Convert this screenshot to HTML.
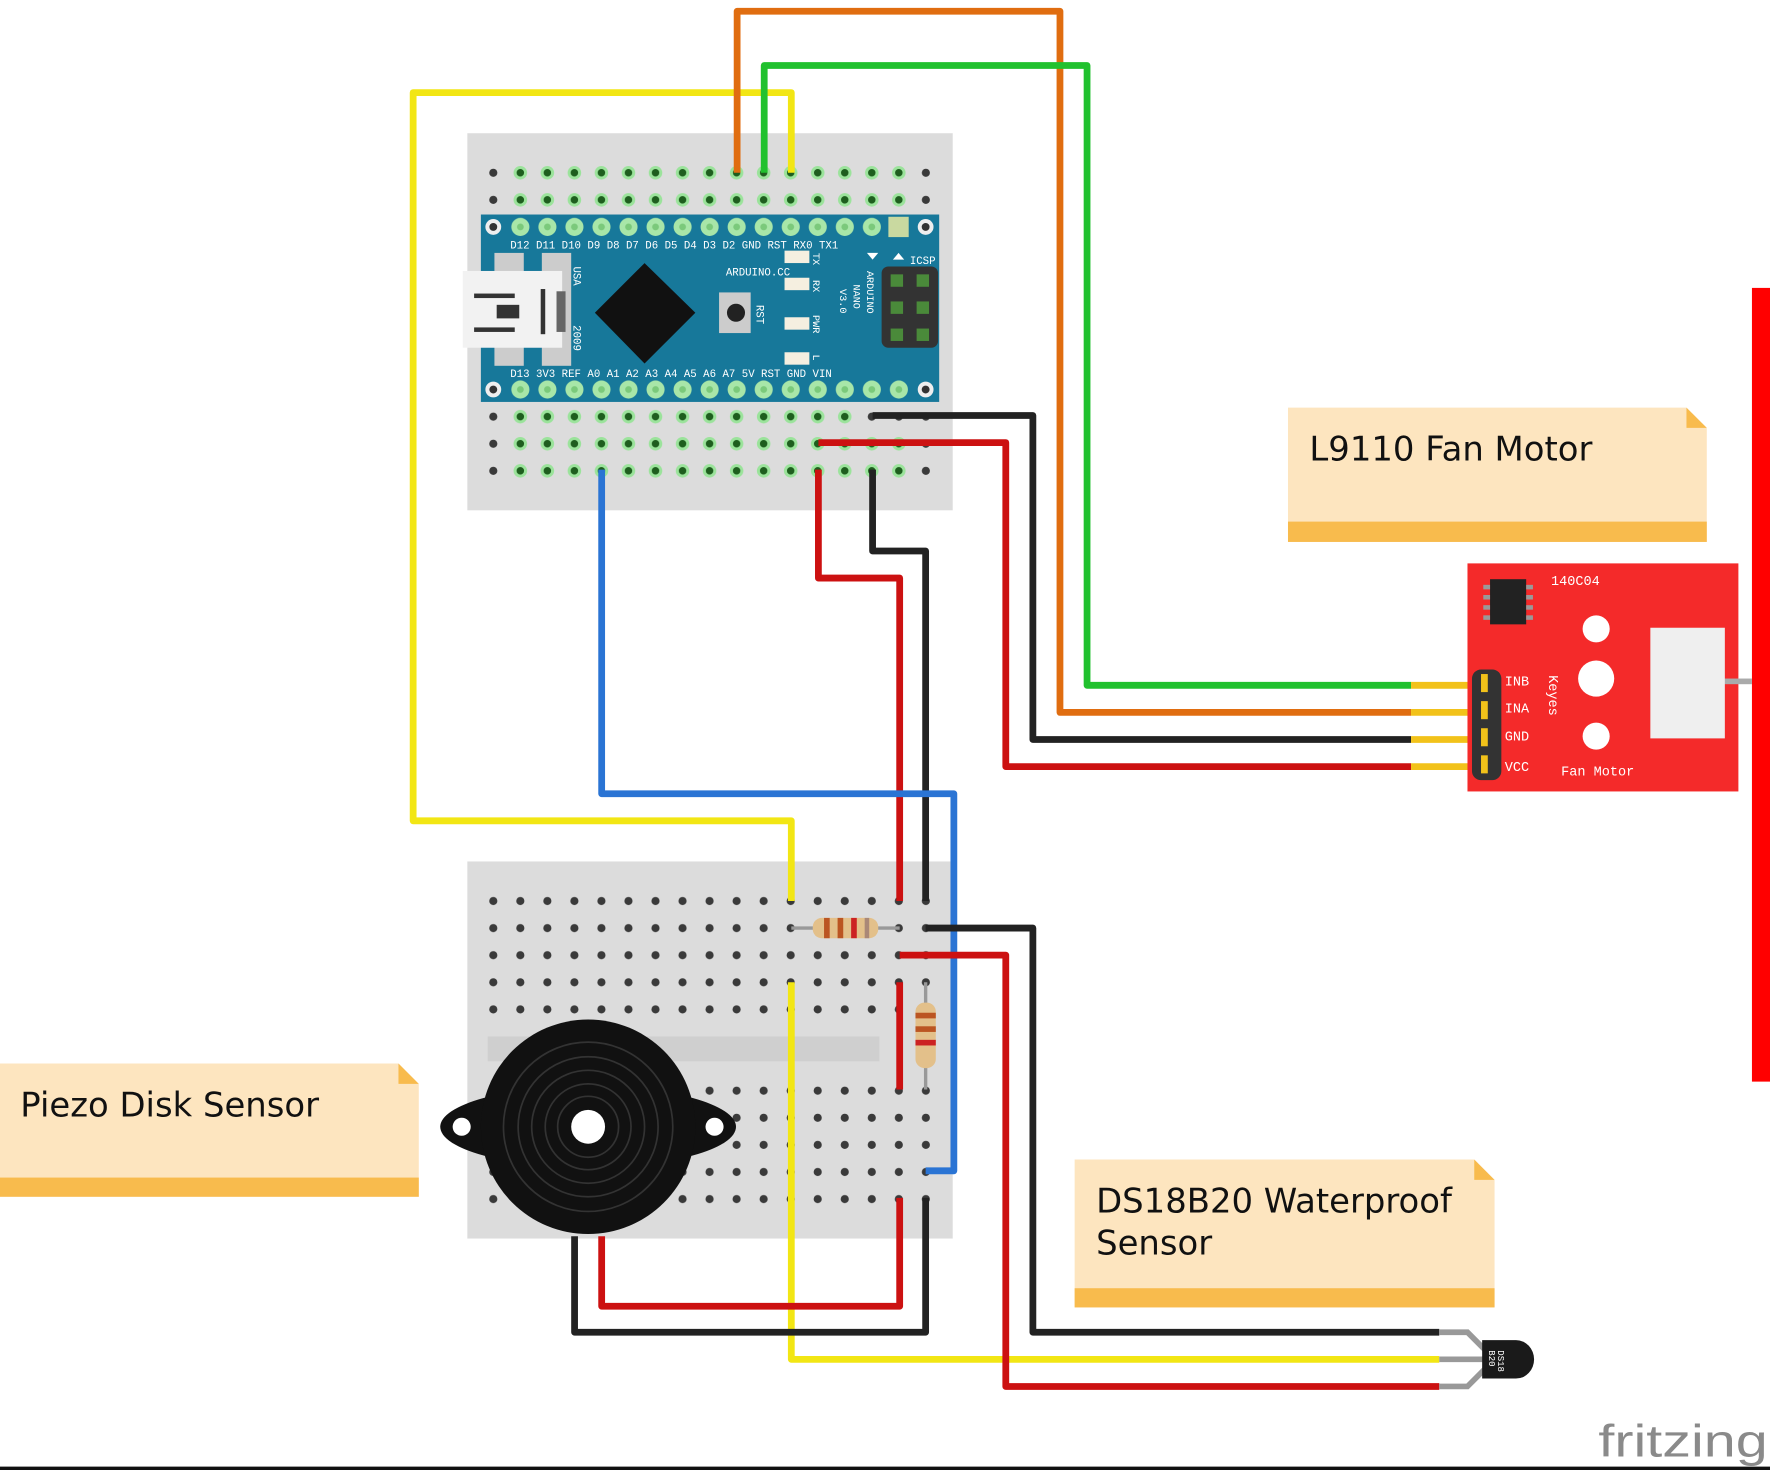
<!DOCTYPE html>
<html><head><meta charset="utf-8"><style>html,body{margin:0;padding:0;background:#fff}svg{display:block}</style></head>
<body>
<svg width="1770" height="1470" viewBox="0 0 1568 1302" preserveAspectRatio="none" xmlns="http://www.w3.org/2000/svg" font-family="Liberation Mono, monospace">
<defs>
<pattern id="gh" x="425" y="0" width="23.95" height="24" patternUnits="userSpaceOnUse">
<circle cx="12" cy="9" r="6" fill="#9be39b"/><circle cx="12" cy="9" r="3.3" fill="#1e5e1e"/></pattern>
<pattern id="dh" x="425" y="0" width="23.95" height="24" patternUnits="userSpaceOnUse">
<circle cx="12" cy="9" r="3.6" fill="#3a3a3a"/></pattern>
<pattern id="dh2" x="425" y="-3" width="23.95" height="24" patternUnits="userSpaceOnUse">
<circle cx="12" cy="9" r="3.6" fill="#3a3a3a"/></pattern>
<pattern id="ph" x="449" y="0" width="23.95" height="24" patternUnits="userSpaceOnUse">
<circle cx="12" cy="9" r="8" fill="#a8e6a8"/><circle cx="12" cy="9" r="3" fill="#7bc97b"/></pattern>
</defs>
<rect width="1568" height="1302" fill="#fff"/>
<!-- breadboard 1 -->
<rect x="414" y="118" width="430" height="334" fill="#dcdcdc"/>
<rect x="425" y="144" width="408" height="18" fill="url(#dh)"/>
<rect x="449" y="144" width="360" height="18" fill="url(#gh)"/>
<rect x="425" y="168" width="408" height="18" fill="url(#dh)"/>
<rect x="449" y="168" width="360" height="18" fill="url(#gh)"/>
<rect x="425" y="359" width="408" height="66" fill="url(#dh)"/>
<rect x="449" y="383" width="360" height="42" fill="url(#gh)"/>
<rect x="449" y="359" width="312" height="18" fill="url(#gh)"/>
<!-- nano -->
<rect x="426" y="190" width="406" height="166" fill="#17789a"/>
<rect x="449" y="192" width="360" height="18" fill="url(#ph)"/>
<rect x="449" y="336" width="360" height="18" fill="url(#ph)"/>
<rect x="787" y="192" width="18" height="18" fill="#c9d9a0"/>
<circle cx="437" cy="201" r="7" fill="#eee"/><circle cx="437" cy="201" r="3.5" fill="#333"/>
<circle cx="820" cy="201" r="7" fill="#eee"/><circle cx="820" cy="201" r="3.5" fill="#333"/>
<circle cx="437" cy="345" r="7" fill="#eee"/><circle cx="437" cy="345" r="3.5" fill="#333"/>
<circle cx="820" cy="345" r="7" fill="#eee"/><circle cx="820" cy="345" r="3.5" fill="#333"/>
<g fill="#fff" font-size="9.5">
<text x="452" y="220">D12 D11 D10 D9  D8  D7  D6  D5  D4  D3  D2 GND RST RX0 TX1</text>
<text x="452" y="334">D13 3V3 REF  A0  A1  A2  A3  A4  A5  A6  A7  5V RST GND VIN</text>
<text x="643" y="244">ARDUINO.CC</text>
<text x="806" y="234">ICSP</text>
</g>
<rect x="438" y="224" width="26" height="100" fill="#ccc"/><rect x="480" y="224" width="26" height="100" fill="#ccc"/>
<rect x="410" y="240" width="88" height="68" fill="#f2f2f2"/>
<rect x="420" y="260" width="36" height="4" fill="#333"/><rect x="420" y="290" width="36" height="4" fill="#333"/>
<rect x="440" y="270" width="20" height="12" fill="#333"/><rect x="479" y="256" width="4" height="40" fill="#333"/>
<rect x="493" y="258" width="8" height="36" fill="#666"/>
<text x="508" y="236" fill="#fff" font-size="9.5" transform="rotate(90 508 236)">USA</text>
<text x="508" y="288" fill="#fff" font-size="9.5" transform="rotate(90 508 288)">2009</text>
<polygon points="571,233 616,277 571,322 527,277" fill="#111"/>
<rect x="637" y="259" width="28" height="36" fill="#ccc"/><circle cx="652" cy="277" r="8" fill="#222"/>
<text x="670" y="270" fill="#fff" font-size="9.5" transform="rotate(90 670 270)">RST</text>
<g fill="#f5efe0"><rect x="695" y="222" width="22" height="11"/><rect x="695" y="246" width="22" height="11"/><rect x="695" y="281" width="22" height="11"/><rect x="695" y="312" width="22" height="11"/></g>
<g fill="#fff" font-size="9"><text x="720" y="224" transform="rotate(90 720 224)">TX</text><text x="720" y="248" transform="rotate(90 720 248)">RX</text><text x="720" y="279" transform="rotate(90 720 279)">PWR</text><text x="720" y="314" transform="rotate(90 720 314)">L</text>
<text x="768" y="240" transform="rotate(90 768 240)">ARDUINO</text><text x="756" y="252" transform="rotate(90 756 252)">NANO</text><text x="744" y="256" transform="rotate(90 744 256)">V3.0</text></g>
<polygon points="768,224 778,224 773,230" fill="#fff"/><polygon points="791,230 801,230 796,224" fill="#fff"/>
<rect x="781" y="236" width="50" height="72" rx="6" fill="#333"/>
<g fill="#4a8a3a"><rect x="789" y="243" width="11" height="11"/><rect x="812" y="243" width="11" height="11"/><rect x="789" y="267" width="11" height="11"/><rect x="812" y="267" width="11" height="11"/><rect x="789" y="291" width="11" height="11"/><rect x="812" y="291" width="11" height="11"/></g>
<!-- breadboard 2 -->
<rect x="414" y="763" width="430" height="334" fill="#dcdcdc"/>
<rect x="425" y="786" width="408" height="114" fill="url(#dh2)"/>
<rect x="425" y="953" width="408" height="114" fill="url(#dh2)"/>
<rect x="432" y="918" width="347" height="22" fill="#cfcfcf"/>
<!-- piezo -->
<ellipse cx="521" cy="998" rx="131" ry="36" fill="#111"/>
<circle cx="409" cy="998" r="8" fill="#fff"/><circle cx="633" cy="998" r="8" fill="#fff"/>
<circle cx="521" cy="998" r="95" fill="#111"/>
<g fill="none" stroke="#333" stroke-width="1.5"><circle cx="521" cy="998" r="75"/><circle cx="521" cy="998" r="62"/><circle cx="521" cy="998" r="50"/><circle cx="521" cy="998" r="38"/><circle cx="521" cy="998" r="27"/></g>
<circle cx="521" cy="998" r="15" fill="#fff"/>
<!-- wires -->
<g fill="none" stroke-width="6" stroke-linejoin="round">
<polyline stroke="#f2e614" points="701,153 701,82 366,82 366,727 701,727 701,798"/>
<polyline stroke="#f2e614" points="701,870 701,1204 1275,1204"/>
<polyline stroke="#e06d10" points="653,153 653,10 939,10 939,631 1250,631"/>
<polyline stroke="#21c12e" points="677,153 677,58 963,58 963,607 1250,607"/>
<polyline stroke="#222" points="773,368 915,368 915,655 1250,655"/>
<polyline stroke="#cc1111" points="725,392 891,392 891,679 1250,679"/>
<polyline stroke="#cc1111" points="725,416 725,512 797,512 797,798"/>
<polyline stroke="#222" points="773,416 773,488 820,488 820,798"/>
<polyline stroke="#2a74d4" points="533,416 533,703 845,703 845,1037 820,1037"/>
<polyline stroke="#222" points="820,822 915,822 915,1180 1275,1180"/>
<polyline stroke="#cc1111" points="797,846 891,846 891,1228 1275,1228"/>
<polyline stroke="#cc1111" points="797,870 797,965"/>
<polyline stroke="#cc1111" points="797,1061 797,1157 533,1157 533,1095"/>
<polyline stroke="#222" points="820,1061 820,1180 509,1180 509,1095"/>
<polyline stroke="#f2c21a" points="1250,607 1315,607"/><polyline stroke="#f2c21a" points="1250,631 1315,631"/>
<polyline stroke="#f2c21a" points="1250,655 1315,655"/><polyline stroke="#f2c21a" points="1250,679 1315,679"/>
</g>
<!-- resistors -->
<line x1="701" y1="822" x2="797" y2="822" stroke="#999" stroke-width="3"/>
<rect x="720" y="813" width="58" height="18" rx="8" fill="#e3c08a"/>
<g fill="#b52"><rect x="730" y="813" width="5" height="18"/><rect x="742" y="813" width="5" height="18"/><rect x="754" y="813" width="5" height="18" fill="#c22"/><rect x="766" y="813" width="4" height="18" fill="#a87"/></g>
<line x1="820" y1="870" x2="820" y2="965" stroke="#999" stroke-width="3"/>
<rect x="811" y="888" width="18" height="58" rx="8" fill="#e3c08a"/>
<g fill="#b52"><rect x="811" y="897" width="18" height="5"/><rect x="811" y="909" width="18" height="5"/><rect x="811" y="921" width="18" height="5" fill="#c22"/></g>
<!-- fan motor -->
<rect x="1552" y="255" width="16" height="703" fill="#ff0000"/>
<rect x="1300" y="499" width="240" height="202" fill="#f42a2a"/>
<rect x="1527" y="601" width="25" height="5" fill="#aaa"/>
<rect x="1462" y="556" width="66" height="98" fill="#efefef"/>
<circle cx="1414" cy="557" r="12" fill="#fff"/><circle cx="1414" cy="601" r="16" fill="#fff"/><circle cx="1414" cy="652" r="12" fill="#fff"/>
<rect x="1320" y="513" width="32" height="40" fill="#222"/>
<g fill="#999"><rect x="1314" y="518" width="6" height="4"/><rect x="1314" y="527" width="6" height="4"/><rect x="1314" y="536" width="6" height="4"/><rect x="1314" y="545" width="6" height="4"/><rect x="1352" y="518" width="6" height="4"/><rect x="1352" y="527" width="6" height="4"/><rect x="1352" y="536" width="6" height="4"/><rect x="1352" y="545" width="6" height="4"/></g>
<rect x="1304" y="593" width="26" height="98" rx="8" fill="#333"/>
<g fill="#f2c21a"><rect x="1312" y="597" width="6" height="16"/><rect x="1312" y="621" width="6" height="16"/><rect x="1312" y="645" width="6" height="16"/><rect x="1312" y="669" width="6" height="16"/></g>
<g fill="#fff" font-size="12"><text x="1333" y="607">INB</text><text x="1333" y="631">INA</text><text x="1333" y="656">GND</text><text x="1333" y="683">VCC</text><text x="1383" y="687">Fan Motor</text><text x="1374" y="518">140C04</text>
<text x="1372" y="598" transform="rotate(90 1372 598)">Keyes</text></g>
<!-- notes -->
<g font-family="DejaVu Sans, Liberation Sans, sans-serif" font-size="30" fill="#111">
<polygon points="1141,361 1494,361 1512,379 1512,480 1141,480" fill="#fde5bf"/><rect x="1141" y="462" width="371" height="18" fill="#f8bb4d"/><polygon points="1494,361 1512,379 1494,379" fill="#f8bb4d"/>
<text x="1160" y="408">L9110 Fan Motor</text>
<polygon points="0,942 353,942 371,960 371,1060 0,1060" fill="#fde5bf"/><rect x="0" y="1043" width="371" height="17" fill="#f8bb4d"/><polygon points="353,942 371,960 353,960" fill="#f8bb4d"/>
<text x="18" y="989">Piezo Disk Sensor</text>
<polygon points="952,1027 1306,1027 1324,1045 1324,1158 952,1158" fill="#fde5bf"/><rect x="952" y="1141" width="372" height="17" fill="#f8bb4d"/><polygon points="1306,1027 1324,1045 1306,1045" fill="#f8bb4d"/>
<text x="971" y="1074">DS18B20 Waterproof</text><text x="971" y="1111">Sensor</text>
</g>
<!-- ds18b20 -->
<g fill="none" stroke="#999" stroke-width="5"><polyline points="1275,1180 1300,1180 1315,1195"/><polyline points="1275,1204 1320,1204"/><polyline points="1275,1228 1300,1228 1315,1213"/></g>
<path d="M1313,1187 h30 a16,17 0 0 1 0,34 h-30 z" fill="#1a1a1a"/>
<text x="1327" y="1196" fill="#fff" font-size="8" transform="rotate(90 1327 1196)">DS18</text>
<text x="1319" y="1196" fill="#fff" font-size="8" transform="rotate(90 1319 1196)">B20</text>
<text x="1566" y="1290" text-anchor="end" fill="#8a8a8a" font-size="40" font-family="Liberation Sans, sans-serif" textLength="150" lengthAdjust="spacingAndGlyphs">fritzing</text>
<rect x="0" y="1299" width="1568" height="3" fill="#111"/>
</svg>
</body></html>
